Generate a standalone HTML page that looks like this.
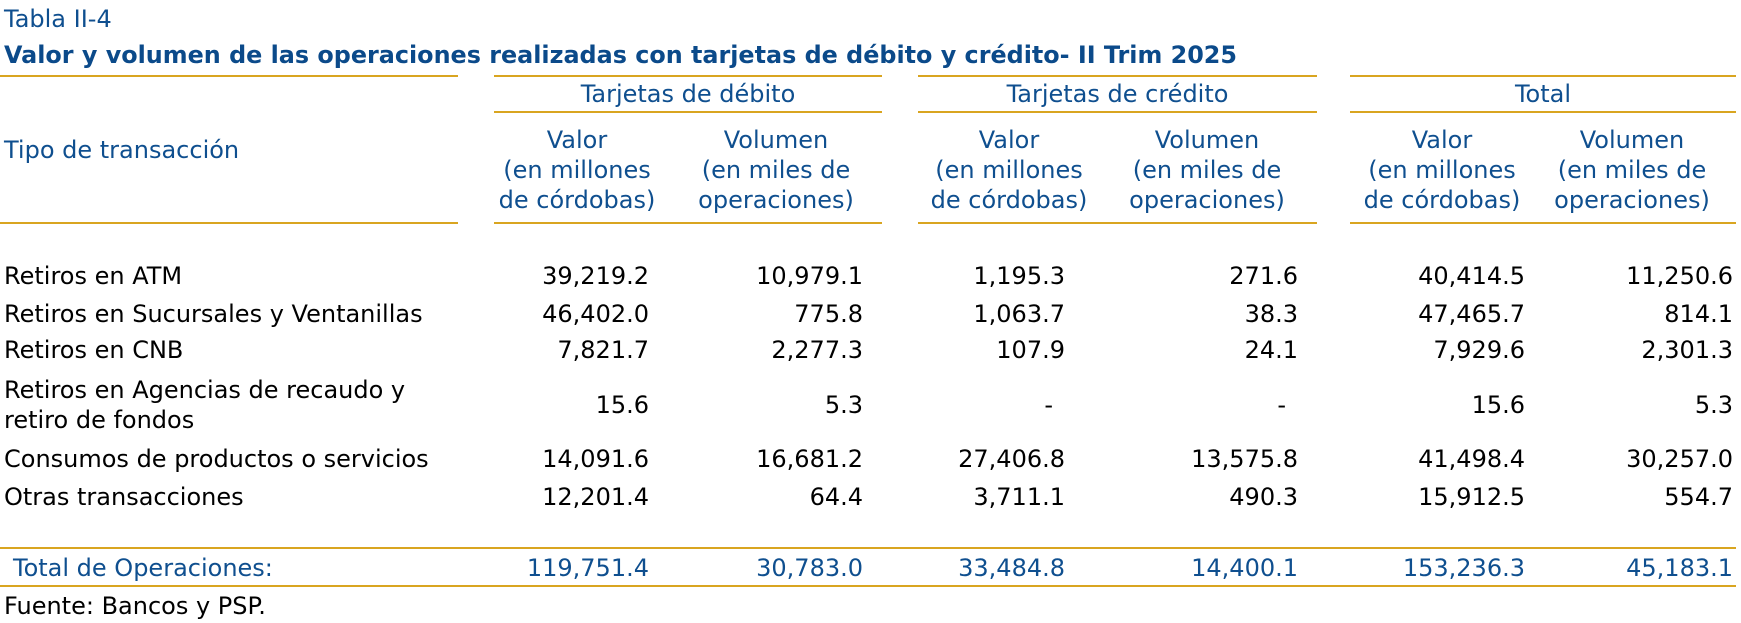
<!DOCTYPE html>
<html><head><meta charset="utf-8">
<style>
body{margin:0;background:#fff;}
#root{position:relative;width:1741px;height:623px;overflow:hidden;font-family:"DejaVu Sans","Liberation Sans",sans-serif;font-size:24px;color:#000;}
.t{position:absolute;white-space:nowrap;line-height:30px;}
.blue{color:#0f4f8f;}
.rule{position:absolute;height:2px;background:#d9a520;}
.ch{position:absolute;text-align:center;line-height:30px;color:#0f4f8f;white-space:nowrap;}
.num{position:absolute;white-space:nowrap;line-height:30px;text-align:right;}
</style></head><body>
<div id="root">
<div class="t blue" style="left:4px;top:4px;">Tabla II-4</div>
<div id="title" class="t" style="left:4px;top:40px;font-weight:bold;color:#0b4a8a;transform-origin:0 50%;">Valor y volumen de las operaciones realizadas con tarjetas de débito y crédito- II Trim 2025</div>

<div class="rule" style="left:0;width:458px;top:75px;"></div>
<div class="rule" style="left:494px;width:388px;top:75px;"></div>
<div class="rule" style="left:918px;width:399px;top:75px;"></div>
<div class="rule" style="left:1350px;width:386px;top:75px;"></div>

<div class="ch" style="left:494px;width:388px;top:79px;">Tarjetas de débito</div>
<div class="ch" style="left:918px;width:399px;top:79px;">Tarjetas de crédito</div>
<div class="ch" style="left:1350px;width:386px;top:79px;">Total</div>

<div class="rule" style="left:494px;width:388px;top:111px;"></div>
<div class="rule" style="left:918px;width:399px;top:111px;"></div>
<div class="rule" style="left:1350px;width:386px;top:111px;"></div>

<div class="t blue" style="left:4px;top:135px;">Tipo de transacción</div>

<div class="rule" style="left:0;width:458px;top:222px;"></div>
<div class="rule" style="left:494px;width:388px;top:222px;"></div>
<div class="rule" style="left:918px;width:399px;top:222px;"></div>
<div class="rule" style="left:1350px;width:386px;top:222px;"></div>

<div class="rule" style="left:0;width:1736px;top:547px;"></div>
<div class="rule" style="left:0;width:1736px;top:585px;"></div>
<div class="t blue" style="left:13px;top:553px;">Total de Operaciones:</div>
<div class="t" style="left:4px;top:591px;">Fuente: Bancos y PSP.</div>
</div>
<script>
const colHeaderLines = [["Valor","(en millones","de córdobas)"],["Volumen","(en miles de","operaciones)"]];
const colCenters = [577,776,1009,1207,1442,1632];
const colRights = [649,863,1065,1298,1525,1733];
const rowLabels = [["Retiros en ATM"],["Retiros en Sucursales y Ventanillas"],["Retiros en CNB"],["Retiros en Agencias de recaudo y","retiro de fondos"],["Consumos de productos o servicios"],["Otras transacciones"]];
const rowCenters = [276,314,350,405,459,497];
const debitValor = ["39,219.2","46,402.0","7,821.7","15.6","14,091.6","12,201.4"];
const debitVolumen = ["10,979.1","775.8","2,277.3","5.3","16,681.2","64.4"];
const creditValor = ["1,195.3","1,063.7","107.9","-","27,406.8","3,711.1"];
const creditVolumen = ["271.6","38.3","24.1","-","13,575.8","490.3"];
const totalValor = ["40,414.5","47,465.7","7,929.6","15.6","41,498.4","15,912.5"];
const totalVolumen = ["11,250.6","814.1","2,301.3","5.3","30,257.0","554.7"];
const totals = ["119,751.4","30,783.0","33,484.8","14,400.1","153,236.3","45,183.1"];
const series = [debitValor,debitVolumen,creditValor,creditVolumen,totalValor,totalVolumen];
const colNames = ["debit-valor","debit-volumen","credit-valor","credit-volumen","total-valor","total-volumen"];
const root = document.getElementById('root');

colCenters.forEach((cx,i)=>{
  const d=document.createElement('div');
  d.className='ch';
  
  
  d.style.left=(cx-120)+'px';d.style.width='240px';d.style.top='125px';
  d.innerHTML=colHeaderLines[i%2].join('<br>');
  root.appendChild(d);
});
rowLabels.forEach((lines,r)=>{
  const d=document.createElement('div');
  d.className='t';
  
  
  d.style.left='4px';d.style.top=(rowCenters[r]-15*lines.length)+'px';
  d.innerHTML=lines.join('<br>');
  root.appendChild(d);
});
series.forEach((vals,c)=>{
  vals.forEach((v,r)=>{
    const d=document.createElement('div');
    d.className='num';
    
    
    const right = colRights[c] + (v==='-'?-12:0);
    d.style.right=(1741-right)+'px';d.style.top=(rowCenters[r]-15)+'px';
    d.textContent=v;
    root.appendChild(d);
  });
});
totals.forEach((v,c)=>{
  const d=document.createElement('div');
  d.className='num blue';
  
  
  d.style.right=(1741-colRights[c])+'px';d.style.top='553px';
  d.textContent=v;
  root.appendChild(d);
});
const title=document.getElementById('title');
const w=title.getBoundingClientRect().width;
title.style.transform='scaleX('+(1233/w)+')';
</script>
</body></html>
